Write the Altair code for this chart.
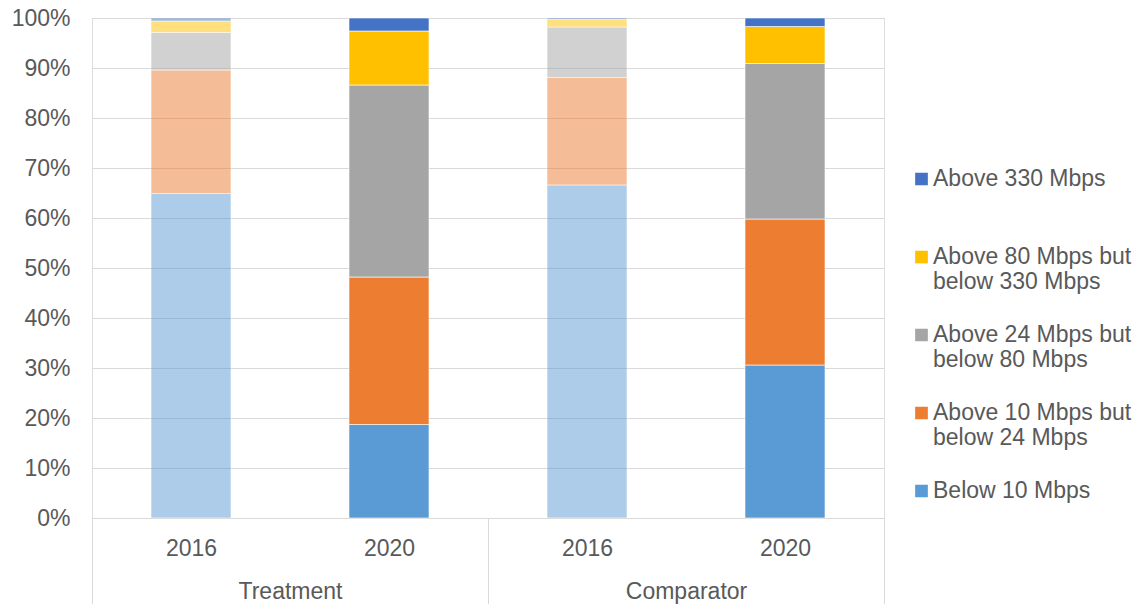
import json
import altair as alt
import pandas as pd

# ---- data (percent shares, bottom of stack first) ----
categories = [
    "Below 10 Mbps",
    "Above 10 Mbps but below 24 Mbps",
    "Above 24 Mbps but below 80 Mbps",
    "Above 80 Mbps but below 330 Mbps",
    "Above 330 Mbps",
]
legend_lines = [
    ["Below 10 Mbps"],
    ["Above 10 Mbps but", "below 24 Mbps"],
    ["Above 24 Mbps but", "below 80 Mbps"],
    ["Above 80 Mbps but", "below 330 Mbps"],
    ["Above 330 Mbps"],
]
colors = ["#5B9BD5", "#ED7D31", "#A5A5A5", "#FFC000", "#4472C4"]
groups = ["Treatment", "Comparator"]
years = ["2016", "2020"]

treatment_2016 = [64.9, 24.7, 7.5, 2.3, 0.6]
treatment_2020 = [18.7, 29.5, 38.4, 10.8, 2.6]
comparator_2016 = [66.6, 21.5, 10.1, 1.5, 0.3]
comparator_2020 = [30.6, 29.2, 31.1, 7.4, 1.7]

series = [treatment_2016, treatment_2020, comparator_2016, comparator_2020]

rows = []
for b, vals in enumerate(series):
    for k, (cat, v) in enumerate(zip(categories, vals)):
        rows.append({
            "group": groups[b // 2],
            "year": years[b % 2],
            "pos": b + 0.5,
            "category": cat,
            "stack_idx": k,
            "value": v,
        })
df = pd.DataFrame(rows)

FONT = "Liberation Sans"
TXT = "#595959"
GRID = "#D9D9D9"
FS = 23

# legend order: top entry is the top of the stack
legend_domain = categories[::-1]
legend_range = colors[::-1]

# legend label expression (multi-line labels)
expr = "datum.label"
for cat, lines in zip(categories, legend_lines):
    if len(lines) > 1:
        val = "[" + ",".join(json.dumps(l) for l in lines) + "]"
    else:
        val = json.dumps(lines[0])
    expr = f"datum.label == {json.dumps(cat)} ? {val} : ({expr})"

# x axis: year labels at bar centres, group labels at group centres, separator ticks at group edges
n_bars = len(series)
x_ticks = [i / 2 for i in range(2 * n_bars + 1)]
year_expr = "(floor(datum.value) % 2 == 0 ? " + json.dumps(years[0]) + " : " + json.dumps(years[1]) + ")"
group_expr = ("(datum.value == 1 ? ['', " + json.dumps(groups[0]) + "] : datum.value == 3 ? ['', "
              + json.dumps(groups[1]) + "] : '')")
x_label_expr = f"datum.value % 1 == 0.5 ? {year_expr} : {group_expr}"

chart = alt.Chart(df).mark_bar(size=80, stroke="white", strokeWidth=0.6).encode(
    x=alt.X(
        "pos:Q",
        scale=alt.Scale(domain=[0, n_bars], nice=False, zero=False, padding=0),
        axis=alt.Axis(
            values=x_ticks,
            labelExpr=x_label_expr,
            title=None,
            grid=False,
            domain=True,
            domainColor=GRID,
            domainWidth=1,
            ticks=True,
            tickSize=86,
            tickColor=GRID,
            tickWidth=1,
            tickOpacity={"condition": {"test": "datum.value % 2 == 0", "value": 1}, "value": 0},
            labelPadding=-67,
            labelFont=FONT,
            labelFontSize=FS,
            labelColor=TXT,
            labelLineHeight=43,
            labelOverlap=False,
            labelFlush=False,
            labelBound=False,
        ),
    ),
    y=alt.Y(
        "value:Q",
        stack="normalize",
        scale=alt.Scale(domain=[0, 1], nice=False),
        axis=alt.Axis(
            values=[i / 10 for i in range(11)],
            format=".0%",
            title=None,
            grid=True,
            gridColor=GRID,
            gridWidth=1,
            domain=False,
            ticks=False,
            labelPadding=22,
            labelFont=FONT,
            labelFontSize=FS,
            labelColor=TXT,
        ),
    ),
    color=alt.Color(
        "category:N",
        scale=alt.Scale(domain=legend_domain, range=legend_range),
        legend=alt.Legend(
            title=None,
            orient="none",
            legendX=818,
            legendY=122,
            direction="vertical",
            symbolType="square",
            symbolSize=161,
            symbolStrokeWidth=0,
            symbolOpacity=1,
            labelOffset=0,
            clipHeight=78,
            rowPadding=0,
            padding=0,
            labelFont=FONT,
            labelFontSize=FS,
            labelColor=TXT,
            labelLimit=400,
            labelBaseline="middle",
            labelExpr=expr,
        ),
    ),
    opacity=alt.Opacity("year:N", scale=alt.Scale(domain=years, range=[0.5, 1.0]), legend=None),
    order=alt.Order("stack_idx:Q", sort="ascending"),
).properties(
    width=792,
    height=500,
    autosize=alt.AutoSizeParams(type="none"),
    padding={"left": 92, "top": 18, "right": 263, "bottom": 86},
).configure_view(stroke=None).configure(background="white")

chart.save("out.html", embed_options={"renderer": "svg", "actions": False})
